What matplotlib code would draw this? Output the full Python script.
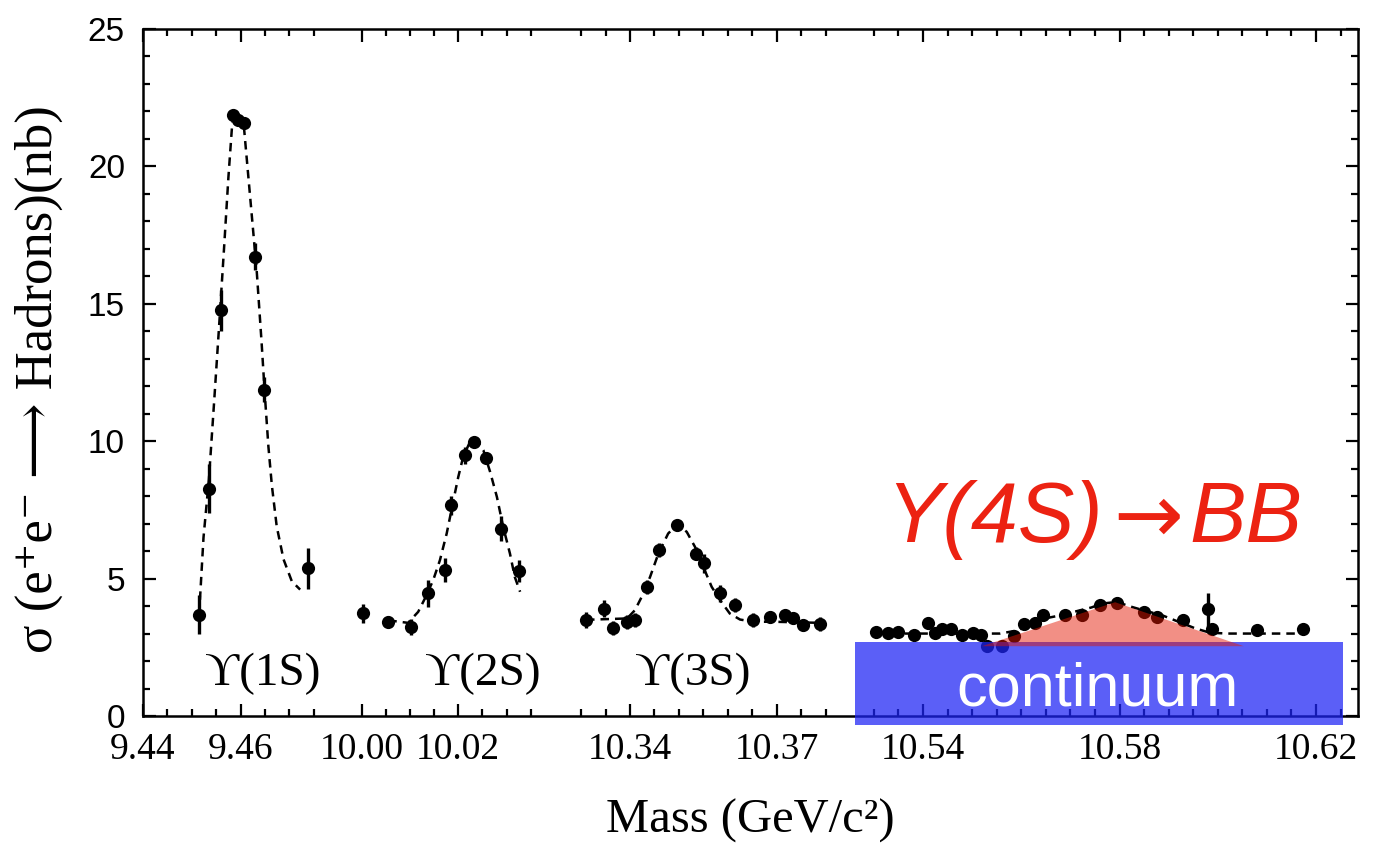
import numpy as np
import matplotlib
matplotlib.use("Agg")
import matplotlib.pyplot as plt
from matplotlib.patches import Rectangle, Polygon

# ---------------- data (mass in GeV/c^2, sigma in nb) ----------------
m1 = [9.4515, 9.4535, 9.4559, 9.4585, 9.4595, 9.4606, 9.4630, 9.4648, 9.4739]
s1 = [3.69, 8.27, 14.77, 21.86, 21.70, 21.58, 16.72, 11.87, 5.37]
e1 = [0.7, 0.9, 0.75, 0.2, 0.2, 0.2, 0.5, 0.45, 0.75]

m2 = [10.0003, 10.0055, 10.0102, 10.0138, 10.0172, 10.0185, 10.0214, 10.0233,
      10.0257, 10.0288, 10.0326]
s2 = [3.73, 3.43, 3.24, 4.46, 5.31, 7.67, 9.48, 9.97, 9.40, 6.82, 5.27]
e2 = [0.35, 0.2, 0.3, 0.5, 0.45, 0.35, 0.3, 0.15, 0.2, 0.45, 0.4]

m3 = [10.3310, 10.3347, 10.3365, 10.3394, 10.3410, 10.3434, 10.3460, 10.3497,
      10.3535, 10.3551, 10.3584, 10.3615, 10.3652, 10.3686, 10.3717, 10.3734,
      10.3754, 10.3789]
s3 = [3.49, 3.91, 3.19, 3.43, 3.49, 4.70, 6.03, 6.94, 5.91, 5.55, 4.46, 4.03,
      3.49, 3.61, 3.67, 3.55, 3.31, 3.34]
e3 = [0.3, 0.3, 0.25, 0.25, 0.25, 0.25, 0.25, 0.2, 0.25, 0.35, 0.3, 0.25,
      0.25, 0.2, 0.2, 0.2, 0.2, 0.25]

m4 = [10.5304, 10.5328, 10.5350, 10.5382, 10.5410, 10.5424, 10.5438, 10.5457,
      10.5480, 10.5502, 10.5518, 10.5530, 10.5560, 10.5586, 10.5606, 10.5628,
      10.5645, 10.5689, 10.5724, 10.5760, 10.5794, 10.5850, 10.5876, 10.5930,
      10.5981, 10.5988, 10.6079, 10.6174]
s4 = [3.06, 3.01, 3.06, 2.94, 3.39, 3.01, 3.15, 3.15, 2.94, 3.01, 2.94, 2.54,
      2.54, 2.91, 3.34, 3.39, 3.67, 3.67, 3.67, 4.03, 4.12, 3.79, 3.61, 3.51,
      3.88, 3.15, 3.12, 3.15]
e4 = [0.15, 0.15, 0.15, 0.15, 0.2, 0.15, 0.15, 0.15, 0.15, 0.15, 0.15, 0.2,
      0.2, 0.2, 0.2, 0.2, 0.2, 0.2, 0.2, 0.2, 0.2, 0.2, 0.2, 0.2,
      0.6, 0.2, 0.15, 0.15]

# fitted line shapes (dashed)
f1m = [9.4515, 9.4524, 9.4535, 9.4546, 9.4556, 9.4566, 9.4575, 9.4583, 9.4592,
       9.4606, 9.4616, 9.4625, 9.4633, 9.4643, 9.4650, 9.4657, 9.4664, 9.4674,
       9.4688, 9.4705, 9.4722]
f1s = [3.7, 6.5, 8.6, 11.5, 14.2, 17.0, 19.6, 21.6, 22.0, 21.6, 19.6, 17.8,
       16.2, 13.6, 11.6, 9.8, 8.4, 6.9, 5.7, 4.9, 4.6]

f2m = [10.0055, 10.0069, 10.0096, 10.0117, 10.0131, 10.0148, 10.0162, 10.0176,
       10.0190, 10.0200, 10.0210, 10.0224, 10.0238, 10.0252, 10.0266, 10.0280,
       10.0293, 10.0307, 10.0317, 10.0328]
f2s = [3.45, 3.45, 3.39, 3.79, 4.28, 4.94, 5.67, 6.64, 7.85, 8.70, 9.42, 9.97,
       10.03, 9.67, 8.88, 7.97, 6.88, 5.91, 5.06, 4.52]

f3m = [10.3310, 10.3394, 10.3410, 10.3424, 10.3441, 10.3458, 10.3478, 10.3497,
       10.3516, 10.3533, 10.3550, 10.3567, 10.3584, 10.3604, 10.3625, 10.3652,
       10.3693, 10.3789]
f3s = [3.5, 3.55, 3.85, 4.34, 5.06, 5.91, 6.64, 6.98, 6.70, 6.15, 5.42, 4.70,
       4.22, 3.73, 3.51, 3.43, 3.43, 3.39]

f4m = [10.5304, 10.5557, 10.5594, 10.5621, 10.5648, 10.5682, 10.5716, 10.5743,
       10.5764, 10.5794, 10.5825, 10.5852, 10.5886, 10.5920, 10.5954, 10.5984,
       10.6021, 10.6171]
f4s = [3.0, 3.0, 3.12, 3.37, 3.55, 3.67, 3.83, 3.95, 4.09, 4.15, 3.97, 3.83,
       3.67, 3.43, 3.19, 3.03, 3.0, 3.0]

major_ticks = [9.44, 9.46, 10.00, 10.02, 10.34, 10.37, 10.54, 10.58, 10.62]
major_labels = ['9.44', '9.46', '10.00', '10.02', '10.34', '10.37', '10.54',
                '10.58', '10.62']

peak_names = ['\u03d2(1S)', '\u03d2(2S)', '\u03d2(3S)']
peak_label_x = [9.4646, 10.0251, 10.3529]

# continuum band and 4S excess triangle (mass, sigma)
cont_x = [10.5261, 10.6255]
cont_y = [-0.33, 2.69]
tri_x = [10.552, 10.5791, 10.6053]
tri_y = [2.54, 4.14, 2.54]

title_parts = ['Y(4S)', '\u2192', 'BB']

# ---------------- broken (piecewise linear) mass axis ----------------
BRK_M = np.array([9.44, 9.4775, 9.9975, 10.0375, 10.3275, 10.381, 10.525, 10.6285])
BRK_P = np.array([143.0, 326.0, 349.6, 542.8, 568.9, 830.5, 849.3, 1357.8])


def _pw(x, xs, ys):
    x = np.asarray(x, dtype=float)
    out = np.interp(x, xs, ys)
    lo_s = (ys[1] - ys[0]) / (xs[1] - xs[0])
    hi_s = (ys[-1] - ys[-2]) / (xs[-1] - xs[-2])
    out = np.where(x < xs[0], ys[0] + (x - xs[0]) * lo_s, out)
    out = np.where(x > xs[-1], ys[-1] + (x - xs[-1]) * hi_s, out)
    return out


def fwd(x):
    return _pw(x, BRK_M, BRK_P)


def inv(p):
    return _pw(p, BRK_P, BRK_M)


W, H = 1373, 851
fig = plt.figure(figsize=(W / 100, H / 100), dpi=100)
ax = fig.add_axes([143 / W, 1 - 716 / H, (1357.8 - 143) / W, (716 - 29) / H])
ax.set_xscale('function', functions=(fwd, inv))
ax.set_xlim(9.44, 10.6285)
ax.set_ylim(0, 25)

dash = (0, (3.4, 2.4))
for fm, fs in [(f1m, f1s), (f2m, f2s), (f3m, f3s), (f4m, f4s)]:
    ax.plot(fm, fs, color='black', lw=1.8, ls=dash, zorder=3)

for m, s, e in [(m1, s1, e1), (m2, s2, e2), (m3, s3, e3), (m4, s4, e4)]:
    ax.errorbar(m, s, yerr=e, fmt='o', color='black', ms=9.5, mew=0,
                elinewidth=2.4, capsize=0, zorder=4)

# ticks
minor = []
for a, b in [(9.44, 9.476), (10.0, 10.036), (10.33, 10.381), (10.53, 10.626)]:
    for t in np.arange(a, b, 0.005):
        t = round(t, 3)
        if not any(abs(t - mt) < 1e-6 for mt in major_ticks):
            minor.append(t)
ax.set_xticks(major_ticks)
ax.set_xticklabels(major_labels)
ax.set_xticks(minor, minor=True)
ax.set_yticks([0, 5, 10, 15, 20, 25])
ax.set_yticks(np.arange(0, 26, 1), minor=True)

ax.tick_params(which='both', direction='in', top=True, right=True, width=1.6,
               color='black')
ax.tick_params(which='major', length=9)
ax.tick_params(which='minor', length=4.8)
ax.tick_params(axis='x', which='major', pad=12)
ax.tick_params(axis='y', which='major', pad=13)
for lab in ax.get_xticklabels():
    lab.set_fontfamily(['Liberation Serif', 'DejaVu Serif'])
    lab.set_fontsize(27)
for lab in ax.get_yticklabels():
    lab.set_fontfamily(['Liberation Sans', 'DejaVu Sans'])
    lab.set_fontsize(24)
for sp in ax.spines.values():
    sp.set_linewidth(1.8)

ax.set_xlabel('Mass (GeV/c\u00b2)', family=['Liberation Serif', 'DejaVu Serif'],
              fontsize=35, va='top')
ax.xaxis.set_label_coords(0.5, -0.120)
ax.set_ylabel('\u03c3 (e\u207ae\u207b \u27f6 Hadrons)(nb)',
              family=['Liberation Serif', 'DejaVu Serif', 'DejaVu Sans'],
              fontsize=38, va='center')
ax.yaxis.set_label_coords(-0.086, 0.49)

for name, xx in zip(peak_names, peak_label_x):
    ax.text(xx, 1.55, name, ha='center', va='center', fontsize=34,
            family=['Liberation Serif', 'DejaVu Serif'], zorder=5)

# continuum band
rect = Rectangle((cont_x[0], cont_y[0]), cont_x[1] - cont_x[0],
                 cont_y[1] - cont_y[0], facecolor=(30 / 255, 36 / 255, 245 / 255),
                 alpha=0.73, edgecolor='none', zorder=6, clip_on=False)
ax.add_patch(rect)
tri = Polygon(list(zip(tri_x, tri_y)), closed=True,
              facecolor=(229 / 255, 22 / 255, 1 / 255), alpha=0.48,
              edgecolor='none', zorder=7, clip_on=False)
ax.add_patch(tri)

ax.text(10.5756, 0.40, 'continuum', ha='center', va='baseline', color='white',
        fontsize=44, family=['Liberation Sans', 'DejaVu Sans'], zorder=8)

# red title in three pieces so the arrow can use a bolder glyph
red = '#EC2212'
renderer = fig.canvas.get_renderer()
t1 = ax.text(10.5326, 6.32, title_parts[0], ha='left', va='baseline', color=red,
             fontsize=61, style='italic',
             family=['Liberation Sans', 'DejaVu Sans'], zorder=8)
bb = t1.get_window_extent(renderer)
base_disp = ax.transData.transform((10.5326, 6.32))
inv_tr = ax.transData.inverted()
x2, y2 = inv_tr.transform((bb.x1 + 10, base_disp[1]))
t2 = ax.text(x2, y2, title_parts[1], ha='left', va='baseline', color=red,
             fontsize=60, family=['DejaVu Sans'], zorder=8)
bb2 = t2.get_window_extent(renderer)
x3, y3 = inv_tr.transform((bb2.x1 + 6, base_disp[1]))
ax.text(x3, y3, title_parts[2], ha='left', va='baseline', color=red,
        fontsize=61, style='italic',
        family=['Liberation Sans', 'DejaVu Sans'], zorder=8)

fig.savefig('out.png', dpi=100)
